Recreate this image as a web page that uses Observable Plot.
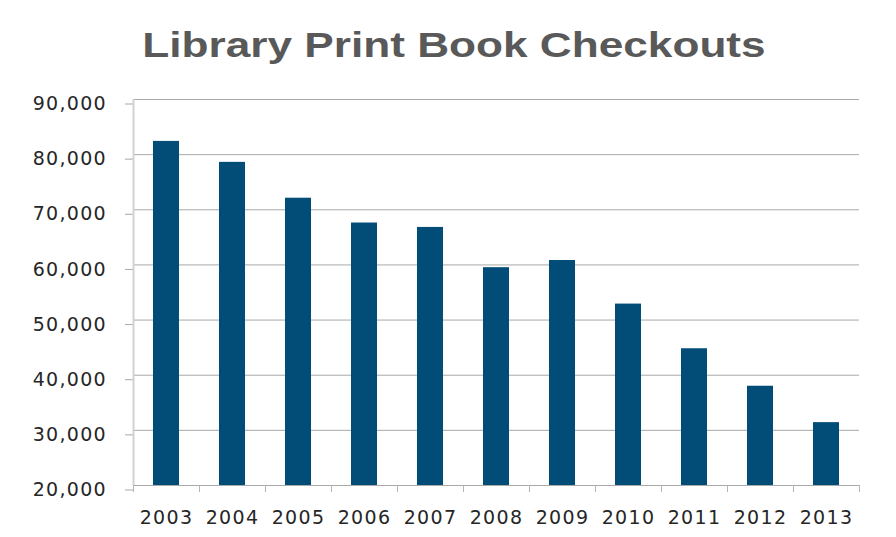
<!DOCTYPE html>
<html>
<head>
<meta charset="utf-8">
<script src="https://cdn.jsdelivr.net/npm/d3@7"></script>
<script src="https://cdn.jsdelivr.net/npm/@observablehq/plot@0.6"></script>
<style>
  html, body { margin: 0; padding: 0; background: #fff; }
  #wrap { width: 896px; height: 537px; position: relative; overflow: hidden; }
  #title { position: relative; height: 80px; width: 896px; }
  #title span {
    position: absolute; left: 5.5px; width: 896px; top: 28px;
    text-align: center; font-family: "Liberation Sans", Arial, sans-serif;
    font-weight: bold; font-size: 34.5px; line-height: 1; color: #595959;
    transform: scaleX(1.28); transform-origin: 448px 50%;
    white-space: nowrap;
  }
  #chart svg { display: block; }
</style>
</head>
<body>
<div id="wrap">
  <div id="title"><span>Library Print Book Checkouts</span></div>
  <div id="chart"></div>
</div>
<script>
const years = [2003, 2004, 2005, 2006, 2007, 2008, 2009, 2010, 2011, 2012, 2013];
const checkouts = [82400, 78600, 72100, 67600, 66800, 59500, 60800, 52900, 44800, 38000, 31400];
const yTicks = [20000, 30000, 40000, 50000, 60000, 70000, 80000, 90000];

const data = years.map((year, i) => ({year, value: checkouts[i]}));
const yMin = yTicks[0];
const yMax = yTicks[yTicks.length - 1];
const half = 0.5;
const barHalf = 0.197;
const boundaries = years.map(y => y - half).concat([years[years.length - 1] + half]);

const chart = Plot.plot({
  width: 896,
  height: 457,
  marginTop: 19,
  marginBottom: 52,
  marginLeft: 133,
  marginRight: 37,
  style: {fontFamily: "'DejaVu Sans', Verdana, sans-serif", fontSize: "19px", letterSpacing: "1.3px", color: "#262626", background: "#fff"},
  x: {type: "linear", domain: [years[0] - half, years[years.length - 1] + half], axis: null},
  y: {domain: [yMin, yMax], axis: null},
  marks: [
    Plot.gridY(yTicks, {stroke: "#a9a9a9", strokeOpacity: 1}),
    Plot.axisY(yTicks, {label: null, tickSize: 8, tickPadding: 18.5, dy: 4.5, stroke: "#a9a9a9", fill: "#262626", tickFormat: d3.format(",")}),
    Plot.ruleX([boundaries[0]], {y1: yMin, y2: yMax, stroke: "#d2d2d2", strokeWidth: 2}),
    Plot.axisX(boundaries, {label: null, tickSize: 7, stroke: "#b5b5b5", tickFormat: () => ""}),
    Plot.axisX(years, {label: null, tickSize: 0, tickPadding: 24.5, fill: "#262626", tickFormat: d => String(d)}),
    Plot.rectY(data, {x1: d => d.year - barHalf, x2: d => d.year + barHalf, y1: () => yMin, y2: "value", fill: "#024c78"})
  ]
});
document.getElementById("chart").appendChild(chart);
</script>
</body>
</html>
